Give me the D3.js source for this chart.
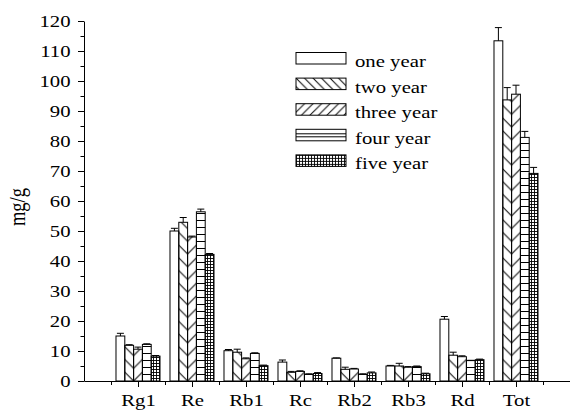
<!DOCTYPE html>
<html>
<head>
<meta charset="utf-8">
<script src="https://cdn.jsdelivr.net/npm/d3@7/dist/d3.min.js"></script>
<style>
  html, body { margin: 0; padding: 0; background: #fff; }
  svg { display: block; }
  text { font-family: "Liberation Serif", "Times New Roman", serif; fill: #000; }
</style>
</head>
<body>
<svg id="chart" width="570" height="410"></svg>
<script>
// Ginsenoside content (mg/g) by root age
const categories = ["Rg1", "Re", "Rb1", "Rc", "Rb2", "Rb3", "Rd", "Tot"];
const seriesNames = ["one year", "two year", "three year", "four year", "five year"];

const oneYear   = [15.0, 50.0, 10.1, 6.3, 7.6, 5.0, 20.6, 113.4];
const twoYear   = [11.9, 52.9,  9.6, 2.9, 3.9, 5.0,  8.6,  93.7];
const threeYear = [10.6, 48.0,  7.4, 3.2, 4.0, 4.6,  8.1,  95.6];
const fourYear  = [12.2, 56.4,  9.2, 2.2, 2.2, 4.8,  6.8,  81.2];
const fiveYear  = [ 8.3, 42.2,  5.1, 2.5, 2.7, 2.4,  7.1,  69.2];

const oneErr   = [0.9, 0.9, 0.4, 0.7, 0.1, 0.2, 0.9, 4.4];
const twoErr   = [0.2, 1.6, 1.0, 0.3, 0.7, 0.9, 1.0, 4.1];
const threeErr = [0.7, 0.3, 0.3, 0.2, 0.2, 0.2, 0.3, 3.0];
const fourErr  = [0.2, 0.9, 0.2, 0.2, 0.2, 0.2, 0.1, 2.0];
const fiveErr  = [0.2, 0.3, 0.2, 0.3, 0.3, 0.2, 0.2, 2.0];

const yTicks = d3.range(0, 121, 10);
const yLabel = "mg/g";

const seriesValues = [oneYear, twoYear, threeYear, fourYear, fiveYear];
const seriesErrors = [oneErr, twoErr, threeErr, fourErr, fiveErr];

// ---- layout ----
const SX = 1.22;           // horizontal stretch of the serif lettering
const FS = 17;
const svg = d3.select("#chart");
const defs = svg.append("defs");

const x = d3.scaleLinear().domain([0, categories.length + 1]).range([84, 570]);
const y = d3.scaleLinear().domain([0, 120]).range([381, 21]);
const step = x(1) - x(0);
const bw = step * 0.163;
const hatch = 12.7;

const barX = (ci, si) => x(ci + 1) + (si - 2.5) * bw;

// ---- fill patterns ----
// diagonal hatches anchored at the edge shared by the 2nd and 3rd bars so they meet as chevrons
categories.forEach((c, ci) => {
  const xe = barX(ci, 2);
  const back = defs.append("pattern")
    .attr("id", "pBack" + ci).attr("patternUnits", "userSpaceOnUse")
    .attr("x", xe).attr("y", y(0)).attr("width", hatch).attr("height", hatch);
  back.append("path")
    .attr("d", `M0,0L${hatch},${hatch}M-1,${hatch - 1}L1,${hatch + 1}M${hatch - 1},-1L${hatch + 1},1`)
    .attr("stroke", "#000").attr("stroke-width", 1);
  const fwd = defs.append("pattern")
    .attr("id", "pFwd" + ci).attr("patternUnits", "userSpaceOnUse")
    .attr("x", xe).attr("y", y(0)).attr("width", hatch).attr("height", hatch);
  fwd.append("path")
    .attr("d", `M0,${hatch}L${hatch},0M-1,1L1,-1M${hatch - 1},${hatch + 1}L${hatch + 1},${hatch - 1}`)
    .attr("stroke", "#000").attr("stroke-width", 1);
});

const horiz = defs.append("pattern")
  .attr("id", "pHoriz").attr("patternUnits", "userSpaceOnUse")
  .attr("x", 0).attr("y", y(0)).attr("width", 10).attr("height", 7);
horiz.append("path").attr("d", "M0,0.5H10").attr("stroke", "#000").attr("stroke-width", 1);

const grid = defs.append("pattern")
  .attr("id", "pGrid").attr("patternUnits", "userSpaceOnUse")
  .attr("x", 0).attr("y", y(0)).attr("width", 3).attr("height", 3);
grid.append("path").attr("d", "M0,0.5H3M0.5,0V3").attr("stroke", "#000").attr("stroke-width", 0.9);

// legend swatch patterns
const lp = 8.5;
const lBack = defs.append("pattern").attr("id", "lBack").attr("patternUnits", "userSpaceOnUse")
  .attr("width", lp).attr("height", lp);
lBack.append("path").attr("d", `M0,0L${lp},${lp}M-1,${lp - 1}L1,${lp + 1}M${lp - 1},-1L${lp + 1},1`)
  .attr("stroke", "#000").attr("stroke-width", 1);
const lFwd = defs.append("pattern").attr("id", "lFwd").attr("patternUnits", "userSpaceOnUse")
  .attr("width", lp).attr("height", lp);
lFwd.append("path").attr("d", `M0,${lp}L${lp},0M-1,1L1,-1M${lp - 1},${lp + 1}L${lp + 1},${lp - 1}`)
  .attr("stroke", "#000").attr("stroke-width", 1);

const fillFor = (si, ci) => {
  if (si === 0) return "#fff";
  if (si === 1) return `url(#pBack${ci})`;
  if (si === 2) return `url(#pFwd${ci})`;
  if (si === 3) return "url(#pHoriz)";
  return "url(#pGrid)";
};

// ---- bars ----
const barData = [];
seriesValues.forEach((vals, si) => {
  vals.forEach((v, ci) => barData.push({ si, ci, v, e: seriesErrors[si][ci] }));
});

const bars = svg.append("g");
bars.selectAll("rect.bg").data(barData).join("rect")
  .attr("x", d => barX(d.ci, d.si)).attr("width", bw)
  .attr("y", d => y(d.v)).attr("height", d => y(0) - y(d.v))
  .attr("fill", "#fff");
bars.selectAll("rect.bar").data(barData).join("rect")
  .attr("class", "bar")
  .attr("x", d => barX(d.ci, d.si)).attr("width", bw)
  .attr("y", d => y(d.v)).attr("height", d => y(0) - y(d.v))
  .attr("fill", d => fillFor(d.si, d.ci))
  .attr("stroke", "#000").attr("stroke-width", 1);

// error bars (upper half only)
const err = svg.append("g").attr("stroke", "#000").attr("stroke-width", 1);
err.selectAll("path").data(barData).join("path")
  .attr("d", d => {
    const cx = barX(d.ci, d.si) + bw / 2;
    const top = y(d.v + d.e);
    return `M${cx},${y(d.v)}V${top}M${cx - 3.5},${top}H${cx + 3.5}`;
  })
  .attr("fill", "none");

// ---- axes ----
const yAxis = svg.append("g").attr("transform", `translate(${x(0)},0)`)
  .call(d3.axisLeft(y).tickValues(yTicks).tickSize(6).tickSizeOuter(0).tickPadding(0));
yAxis.selectAll("text")
  .attr("x", -13.5 / SX).attr("dy", "0.33em")
  .attr("transform", `scale(${SX},1)`)
  .style("font-size", FS + "px").style("font-family", "'Liberation Serif', serif");
svg.append("g").attr("transform", `translate(${x(0)},0)`)
  .call(d3.axisLeft(y).tickValues(d3.range(5, 120, 10)).tickSize(3.5).tickFormat(""))
  .select(".domain").remove();

const xAxis = svg.append("g").attr("transform", `translate(0,${y(0)})`)
  .call(d3.axisBottom(x).tickValues(d3.range(1, categories.length + 1))
    .tickSize(6).tickSizeOuter(0).tickFormat(i => categories[i - 1]));
xAxis.selectAll("text")
  .attr("y", null).attr("dy", null)
  .attr("transform", `translate(0,25) scale(${SX},1)`)
  .style("font-size", FS + "px").style("font-family", "'Liberation Serif', serif");
svg.append("g").attr("transform", `translate(0,${y(0)})`)
  .call(d3.axisBottom(x).tickValues(d3.range(0.5, categories.length + 1, 1)).tickSize(4).tickFormat(""))
  .select(".domain").remove();

svg.selectAll(".domain, .tick line").attr("stroke", "#000").attr("stroke-width", 1);

// y-axis title
svg.append("text")
  .attr("transform", `translate(25,207) rotate(-90) scale(1,${SX})`)
  .attr("text-anchor", "middle")
  .style("font-size", "18.5px")
  .text(yLabel);

// ---- legend ----
const legendFills = ["#fff", "url(#lBack)", "url(#lFwd)", null, "url(#pGrid)"];
const legend = svg.append("g").attr("transform", "translate(296,52.5)");
const rows = legend.selectAll("g").data(seriesNames).join("g")
  .attr("transform", (d, i) => `translate(0,${i * 25.6})`);
rows.each(function (name, i) {
  const g = d3.select(this);
  g.append("rect").attr("width", 50).attr("height", 11.5).attr("fill", "#fff");
  if (i === 3) {
    g.append("path").attr("d", "M0,4.5H50M0,7.5H50").attr("stroke", "#000").attr("stroke-width", 1);
  } else if (i > 0) {
    g.append("rect").attr("width", 50).attr("height", 11.5).attr("fill", legendFills[i]);
  }
  g.append("rect").attr("width", 50).attr("height", 11.5)
    .attr("fill", "none").attr("stroke", "#000").attr("stroke-width", 1);
  g.append("text")
    .attr("transform", `translate(59,14.5) scale(${SX},1)`)
    .style("font-size", FS + "px")
    .text(name);
});
</script>
</body>
</html>
